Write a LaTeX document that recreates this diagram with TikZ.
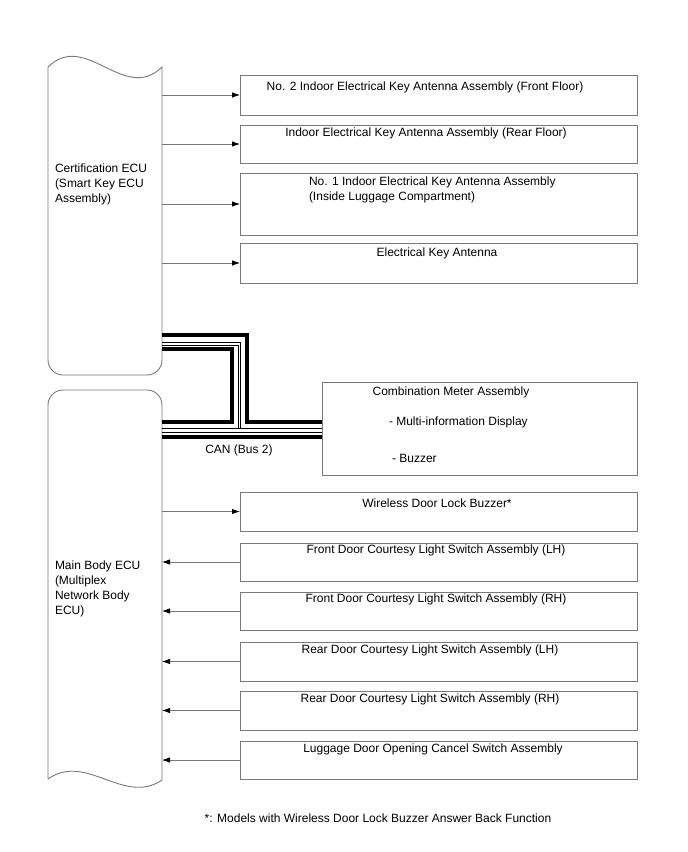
\documentclass[tikz,border=0pt]{standalone}
\usepackage{fontspec}
\setmainfont{Liberation Sans}
\usetikzlibrary{arrows.meta,calc}
\definecolor{linegray}{RGB}{120,120,120}
\begin{document}
\begin{tikzpicture}[x=1pt,y=-1pt,
  every node/.style={font=\fontsize{12}{15}\selectfont, inner sep=0pt, outer sep=0pt},
  boxr/.style={draw=linegray, line width=0.9pt, minimum width=397pt},
  hold/.style={minimum width=114pt},
  lbl/.style={anchor=center},
  ecu/.style={draw=linegray, line width=0.9pt},
  arr/.style={draw=linegray, line width=0.8pt, -{Latex[length=8pt,width=5.5pt,color=black]}},
  canthick/.style={draw=black, line width=3.4pt},
  canthin/.style={draw=black, line width=0.9pt}
]
\useasboundingbox (0,0) rectangle (688,852);

% ECU outlines
\draw[ecu] (48,67) .. controls (86,30) and (124,104) .. (162,67) -- (162,360)
  .. controls (162,368.3) and (155.3,375) .. (147,375) -- (63,375)
  .. controls (54.7,375) and (48,368.3) .. (48,360) -- cycle;
\draw[ecu] (48,779) -- (48,405) .. controls (48,396.7) and (54.7,390) .. (63,390)
  -- (147,390) .. controls (155.3,390) and (162,396.7) .. (162,405) -- (162,780)
  .. controls (124,806) and (86,752) .. (48,779);

% invisible holders for ECUs
\node[hold, minimum height=300pt] (cert) at (105,221) {};
\node[hold, minimum height=380pt] (mbe) at (105,585) {};

\node[anchor=west, align=left] (certtxt) at (55,184) {Certification ECU\\(Smart Key ECU\\Assembly)};
\node[anchor=west, align=left] (mbetxt) at (55,588.5) {Main Body ECU\\(Multiplex\\Network Body\\ECU)};

% right boxes
\node[boxr, minimum height=40pt] (b1) at (438.5,95) {};
\node[boxr, minimum height=38pt] (b2) at (438.5,144) {};
\node[boxr, minimum height=62pt] (b3) at (438.5,204) {};
\node[boxr, minimum height=40pt] (b4) at (438.5,263) {};
\node[draw=linegray, line width=0.9pt, minimum width=315pt, minimum height=93pt] (meter) at (479.5,428.5) {};
\node[boxr, minimum height=39pt] (b5) at (438.5,511.5) {};
\node[boxr, minimum height=38pt] (b6) at (438.5,562) {};
\node[boxr, minimum height=38pt] (b7) at (438.5,611) {};
\node[boxr, minimum height=39pt] (b8) at (438.5,661.5) {};
\node[boxr, minimum height=39pt] (b9) at (438.5,710.5) {};
\node[boxr, minimum height=38pt] (b10) at (438.5,760) {};

% box labels
\node[lbl] (t1) at (425,87) {No. 2 Indoor Electrical Key Antenna Assembly (Front Floor)};
\node[lbl] (t2) at (426,133) {Indoor Electrical Key Antenna Assembly (Rear Floor)};
\node[anchor=west, align=left] (t3) at (309,189.5) {No. 1 Indoor Electrical Key Antenna Assembly\\(Inside Luggage Compartment)};
\node[lbl] (t4) at (437,253) {Electrical Key Antenna};
\node[lbl] (m1) at (451,392) {Combination Meter Assembly};
\node[anchor=west] (m2) at (389,422) {- Multi-information Display};
\node[anchor=west] (m3) at (392,458) {- Buzzer};
\node[lbl] (t5) at (437,503) {Wireless Door Lock Buzzer*};
\node[lbl] (t6) at (436,550) {Front Door Courtesy Light Switch Assembly (LH)};
\node[lbl] (t7) at (436,599) {Front Door Courtesy Light Switch Assembly (RH)};
\node[lbl] (t8) at (430,650) {Rear Door Courtesy Light Switch Assembly (LH)};
\node[lbl] (t9) at (430,699) {Rear Door Courtesy Light Switch Assembly (RH)};
\node[lbl] (t10) at (433,749) {Luggage Door Opening Cancel Switch Assembly};

% arrows
\draw[arr] (cert.east |- b1.west) -- (b1.west);
\draw[arr] (cert.east |- b2.west) -- (b2.west);
\draw[arr] (cert.east |- b3.west) -- (b3.west);
\draw[arr] (cert.east |- b4.west) -- (b4.west);
\draw[arr] (mbe.east |- b5.west) -- (b5.west);
\draw[arr] (b6.west) -- (mbe.east |- b6.west);
\draw[arr] (b7.west) -- (mbe.east |- b7.west);
\draw[arr] (b8.west) -- (mbe.east |- b8.west);
\draw[arr] (b9.west) -- (mbe.east |- b9.west);
\draw[arr] (b10.west) -- (mbe.east |- b10.west);

% CAN bus
\draw[canthick] (cert.east |- 0,335) -- (247,335) -- (247,422) -- (meter.west |- 0,422);
\draw[canthick] (cert.east |- 0,349) -- (232,349) -- (232,422) -- (mbe.east |- 0,422);
\draw[canthick] (mbe.east |- 0,437) -- (meter.west |- 0,437);
\draw[canthin] (cert.east |- 0,342) -- (240.5,342) -- (240.5,428.5);
\draw[canthin] (cert.east |- 0,345.5) -- (238,345.5) -- (238,428.5);
\draw[canthin] (mbe.east |- 0,428.5) -- (meter.west |- 0,428.5);
\draw[canthin] (mbe.east |- 0,432) -- (meter.west |- 0,432);
\node[lbl] (can) at (239,450) {CAN (Bus 2)};

% footnote
\node[lbl] (fn) at (378,818) {*: Models with Wireless Door Lock Buzzer Answer Back Function};
\end{tikzpicture}
\end{document}
